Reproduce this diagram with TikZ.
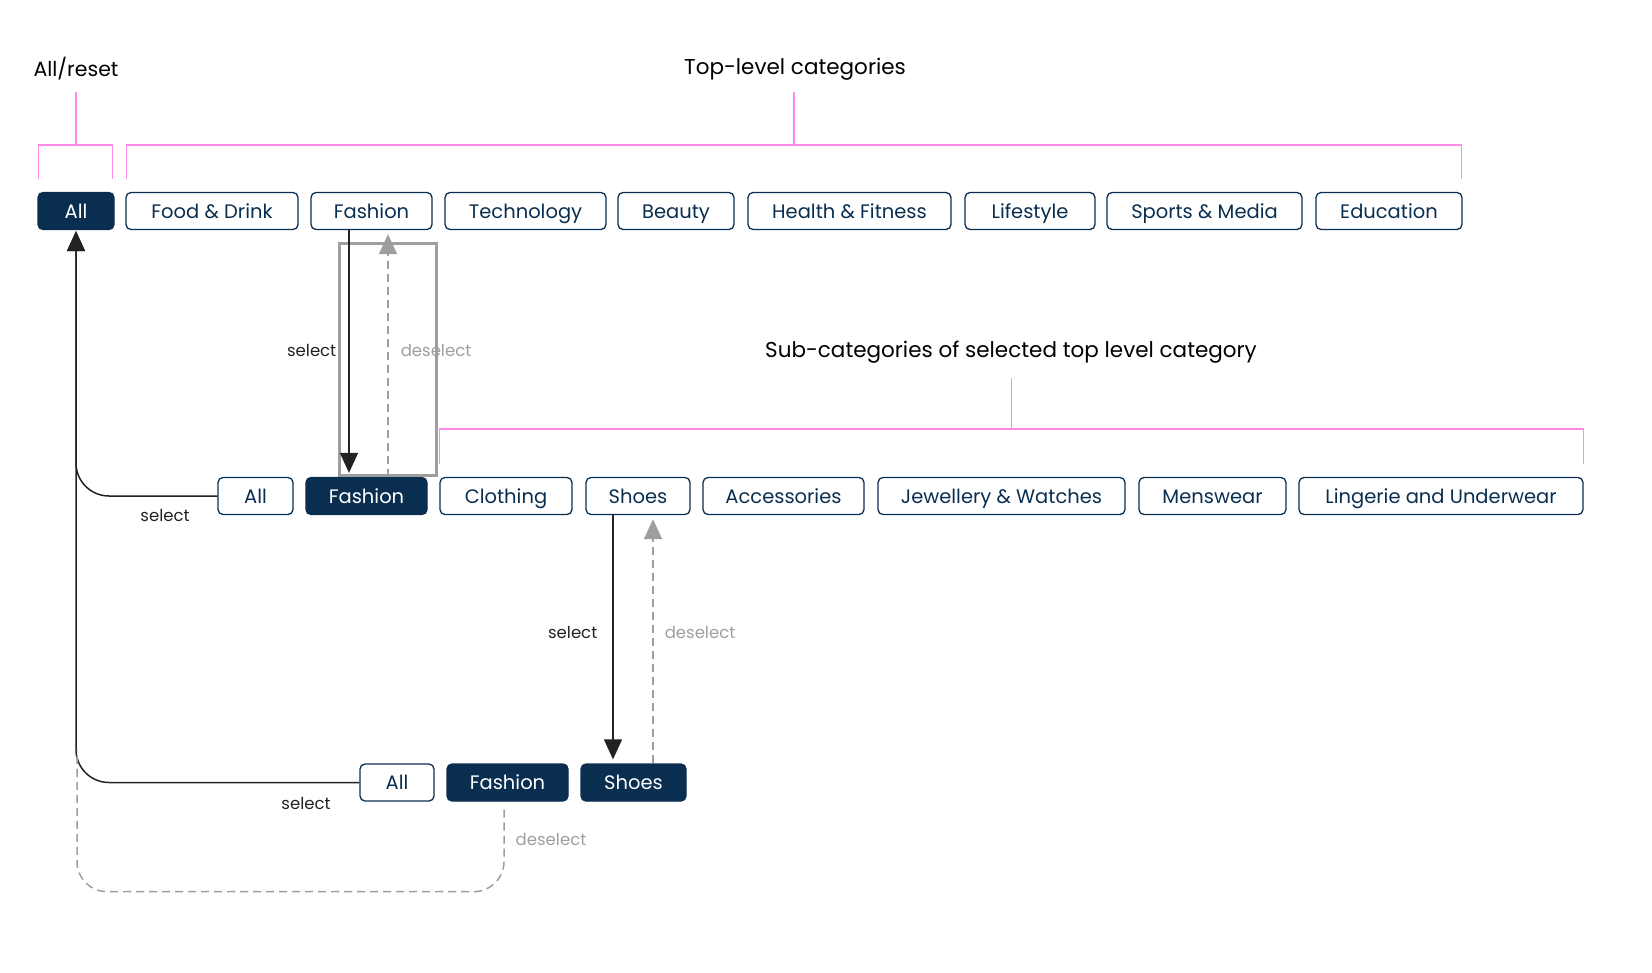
\documentclass[tikz,border=0pt]{standalone}
\usepackage{fontspec}
\setmainfont{Poppins}
\usetikzlibrary{arrows.meta, positioning, calc}
\definecolor{navy}{HTML}{0A2E50}
\definecolor{hotpink}{HTML}{FF8AE8}
\definecolor{midgray}{HTML}{9E9E9E}
\definecolor{inkblack}{HTML}{222222}
\tikzset{
  chip/.style={draw=navy, line width=1.3pt, rounded corners=5pt, text=navy,
    font=\fontsize{19.5}{23}\selectfont, minimum height=37pt, inner sep=0pt,
    text height=17pt, text depth=3pt},
  chipon/.style={chip, fill=navy, text=white},
  bracket/.style={hotpink, line width=1.5pt},
  selarr/.style={inkblack, line width=1.5pt, shorten >=4pt,
    -{Triangle[length=20pt, width=18pt]}},
  deselline/.style={midgray, line width=1.5pt, dash pattern=on 8pt off 5pt},
  deselarr/.style={deselline, shorten >=4pt, -{Triangle[length=20pt, width=18pt]}},
  lbl/.style={font=\fontsize{16.5}{19}\selectfont, inner sep=0pt, text=inkblack},
  glbl/.style={lbl, text=midgray},
  heading/.style={font=\fontsize{21.5}{25}\selectfont, text=black, inner sep=0pt}
}
\begin{document}
\begin{tikzpicture}[x=1pt, y=-1pt]
  \useasboundingbox (0,0) rectangle (1652,972);

  % Headings
  \node[heading, font=\fontsize{20.5}{24}\selectfont] (hreset) at (76,69) {All/reset};
  \node[heading] (htop) at (795,69) {Top-level categories};
  \node[heading] (hsub) at (1011,352) {Sub-categories of selected top level category};

  % Top-level row
  \node[chipon, minimum width=76pt] (topall) at (76,211) {All};
  \foreach \nm/\cx/\w/\txt in {topfood/212/172/Food \& Drink, topfash/371.5/121/Fashion,
      toptech/525.5/161/Technology, topbeauty/676/116/Beauty,
      tophealth/849.5/203/Health \& Fitness, toplife/1030/130/Lifestyle,
      topsport/1204.5/195/Sports \& Media, topedu/1389/146/Education}
    \node[chip, minimum width=\w pt] (\nm) at (\cx,211) {\txt};

  % Sub-category row
  \node[chip, minimum width=75pt] (suball) at (255.5,496) {All};
  \node[chipon, minimum width=121pt] (subfash) at (366.5,496) {Fashion};
  \foreach \nm/\cx/\w/\txt in {subcloth/506/132/Clothing, subshoes/638/104/Shoes,
      subacc/783.5/161/Accessories, subjewel/1001.5/247/Jewellery \& Watches,
      submens/1212.5/147/Menswear, sublinge/1441/284/Lingerie and Underwear}
    \node[chip, minimum width=\w pt] (\nm) at (\cx,496) {\txt};

  % Selected path row
  \node[chip, minimum width=74pt] (selall) at (397,782.5) {All};
  \node[chipon, minimum width=121pt] (selfash) at (507.5,782.5) {Fashion};
  \node[chipon, minimum width=105pt] (selshoes) at (633.5,782.5) {Shoes};

  % Pink brackets
  \draw[bracket] ($(topall.north west)+(1,-13)$) -- ++(0,-34) -| ($(topall.north east)+(-2,-13)$);
  \draw[bracket] ($(topall.north)+(0,-47)$) -- ++(0,-53);
  \draw[bracket] ($(topfood.north west)+(1,-13)$) -- ++(0,-34) -| ($(topedu.north east)+(-1,-13)$);
  \draw[bracket] ($(topfood.north west)!0.5!(topedu.north east)+(0,-47)$) -- ++(0,-53);
  \draw[bracket] ($(subcloth.north west)+(0,-13)$) -- ++(0,-35) -| ($(sublinge.north east)+(0,-13)$);
  \draw[bracket] ($(subcloth.north west)!0.5!(sublinge.north east)+(0,-48)$) -- ++(0,-51);

  % Highlight round the Fashion step
  \draw[midgray, line width=3pt] (339,243) rectangle (436,475);

  % Fashion: select / deselect
  \coordinate (fashdown) at ($(topfash.south)+(-22.5,0)$);
  \coordinate (fashup) at ($(subfash.north)+(21.5,0)$);
  \draw[selarr] (fashdown) -- (fashdown |- subfash.north)
    node[midway, left=12pt, yshift=3pt, lbl] (lfashsel) {select};
  \draw[deselarr] (fashup) -- (fashup |- topfash.south)
    node[midway, right=12pt, yshift=3pt, glbl] (lfashdes) {deselect};

  % Shoes: select / deselect
  \coordinate (shoedown) at ($(subshoes.south)+(-25,0)$);
  \coordinate (shoeup) at ($(selshoes.north)+(19.5,0)$);
  \draw[selarr] (shoedown) -- (shoedown |- selshoes.north)
    node[midway, left=15pt, yshift=7pt, lbl] (lshoesel) {select};
  \draw[deselarr] (shoeup) -- (shoeup |- subshoes.south)
    node[midway, right=11pt, yshift=7pt, glbl] (lshoedes) {deselect};

  % Back to All/reset
  \draw[selarr, shorten >=1pt, rounded corners=33pt] (suball.west) -| (topall.south);
  \draw[selarr, shorten >=1pt, rounded corners=33pt] (selall.west) -| (topall.south);
  \node[lbl] (lsuball) at (165,515) {select};
  \node[lbl] (lselall) at (306,803) {select};

  % Deselect Fashion goes back to All
  \coordinate (backtop) at (77,750);
  \draw[deselline, rounded corners=30pt] ($(selfash.south)+(-3.5,8)$) -- ++(0,82) -| (backtop);
  \node[glbl] (lfashback) at (551,839) {deselect};
\end{tikzpicture}
\end{document}
